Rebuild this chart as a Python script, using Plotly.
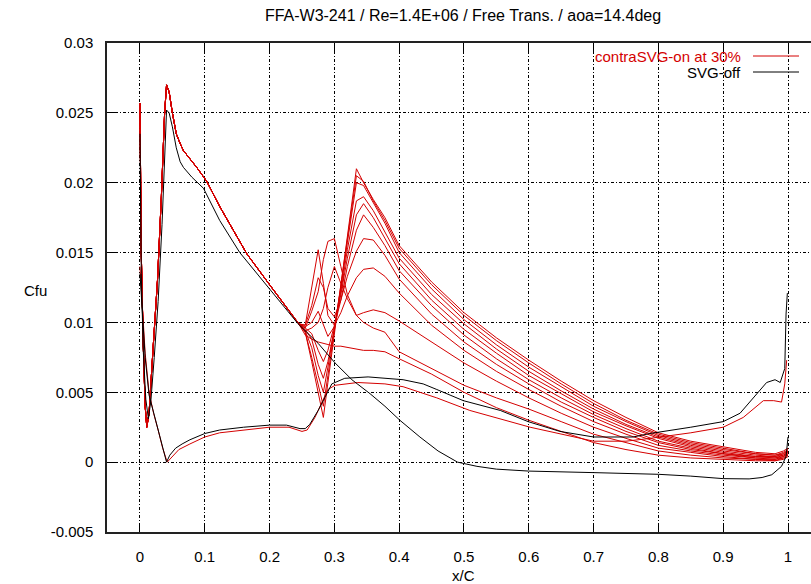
import plotly.graph_objects as go

# ---------------- data ----------------
# SVG-off (black): suction side and pressure side
off_suction_x = [0.0, 0.0005, 0.002, 0.005, 0.009, 0.013, 0.017, 0.022, 0.028, 0.034,
                 0.039, 0.041, 0.045, 0.050, 0.056, 0.062, 0.067, 0.080, 0.098, 0.110,
                 0.123, 0.154, 0.200, 0.224, 0.244, 0.275, 0.301, 0.327, 0.355, 0.378,
                 0.401, 0.432, 0.460, 0.490, 0.520, 0.550, 0.600, 0.700, 0.800, 0.850,
                 0.900, 0.940, 0.960, 0.975, 0.990, 0.997, 1.000]
off_suction_y = [0.0235, 0.0190, 0.0135, 0.0080, 0.0045, 0.0031, 0.0045, 0.0075, 0.0115, 0.0170,
                 0.0228, 0.0252, 0.0250, 0.0240, 0.0225, 0.0215, 0.0211, 0.0204, 0.0196, 0.0185,
                 0.0173, 0.0150, 0.0124, 0.0111, 0.0099, 0.0085, 0.0071, 0.0059, 0.0049, 0.0040,
                 0.0030, 0.0018, 0.0008, 0.0000, -0.0003, -0.0005, -0.00064, -0.00075, -0.00087, -0.0010,
                 -0.00118, -0.0012, -0.0011, -0.0009, -0.0003, 0.0004, 0.0018]

off_pressure_x = [0.0, 0.003, 0.008, 0.014, 0.021, 0.028, 0.035, 0.041, 0.046, 0.055,
                  0.065, 0.077, 0.100, 0.123, 0.160, 0.200, 0.226, 0.247, 0.255, 0.262,
                  0.275, 0.296, 0.316, 0.352, 0.406, 0.437, 0.458, 0.499, 0.556, 0.599,
                  0.648, 0.700, 0.761, 0.787, 0.850, 0.900, 0.926, 0.952, 0.967, 0.980,
                  0.988, 0.995, 0.997, 0.999]
off_pressure_y = [0.0135, 0.0115, 0.0075, 0.0048, 0.0036, 0.0024, 0.0011, 0.0000, 0.0005, 0.0010,
                  0.0013, 0.0016, 0.00205, 0.0023, 0.0025, 0.00265, 0.00265, 0.0024, 0.0024, 0.0027,
                  0.0037, 0.0056, 0.0060, 0.0061, 0.0059, 0.0056, 0.0052, 0.0044, 0.0037, 0.0029,
                  0.0022, 0.0018, 0.0018, 0.00205, 0.0025, 0.0029, 0.0035, 0.0049, 0.0057, 0.0059,
                  0.0057, 0.0067, 0.0106, 0.0121]

# contraSVG-on at 30% (red): pressure side
on_pressure_x = [0.0, 0.003, 0.008, 0.014, 0.021, 0.028, 0.035, 0.042, 0.048, 0.060,
                 0.077, 0.100, 0.123, 0.160, 0.200, 0.230, 0.250, 0.258, 0.270, 0.290,
                 0.301, 0.336, 0.378, 0.406, 0.458, 0.509, 0.602, 0.700, 0.750, 0.787,
                 0.850, 0.900, 0.931, 0.962, 0.978, 0.990, 0.995, 0.998]
on_pressure_y = [0.0140, 0.0118, 0.0078, 0.0050, 0.0035, 0.0023, 0.0010, 0.0000, 0.0003, 0.0009,
                 0.0013, 0.0018, 0.0021, 0.0023, 0.0025, 0.0025, 0.0022, 0.0023, 0.0032, 0.0052,
                 0.0055, 0.0057, 0.0056, 0.0054, 0.0046, 0.0037, 0.0025, 0.0015, 0.0015, 0.0017,
                 0.0021, 0.0025, 0.0032, 0.0044, 0.0044, 0.0043, 0.0056, 0.0073]

# contraSVG-on: suction side, common leading-edge part
on_le_x = [0.0, 0.0005, 0.002, 0.005, 0.008, 0.0105, 0.014, 0.020, 0.027, 0.033,
           0.038, 0.041, 0.045, 0.050, 0.056, 0.062, 0.067, 0.0875, 0.103, 0.123,
           0.165, 0.200, 0.245]
on_le_y = [0.0257, 0.0210, 0.0150, 0.0085, 0.0040, 0.0025, 0.0035, 0.0080, 0.0130, 0.0190,
           0.0250, 0.0270, 0.0265, 0.0250, 0.0235, 0.0228, 0.0223, 0.0211, 0.0201, 0.0183,
           0.0149, 0.0127, 0.0099]

# contraSVG-on: suction side downstream of the VG (one row per station)
on_tail_x = [0.255, 0.265, 0.275, 0.283, 0.290, 0.300, 0.310, 0.320, 0.334, 0.345,
             0.360, 0.378, 0.400, 0.450, 0.500, 0.550, 0.600, 0.650, 0.700, 0.750,
             0.800, 0.850, 0.900, 0.950, 0.980, 0.993, 1.000]
on_tail_y = [
    [.0093, .0072, .0050, .0032, .0057, .0092, .0127, .0161, .0210, .0200, .0188, .0175,
     .0155, .0129, .0107, .0089, .0073, .0058, .0044, .0032, .0021, .0015, .0011, .0007, .0006, .0008, .0010],
    [.0093, .0075, .0055, .0040, .0062, .0094, .0127, .0160, .0205, .0201, .0187, .0173,
     .0153, .0127, .0105, .0087, .0071, .0056, .0042, .0030, .0020, .0014, .0010, .0006, .0005, .0007, .0009],
    [.0094, .0082, .0062, .0050, .0068, .0095, .0125, .0157, .0200, .0198, .0186, .0171,
     .0150, .0124, .0102, .0084, .0068, .0054, .0040, .0029, .0019, .0013, .0009, .0006, .0005, .0006, .0009],
    [.0095, .0088, .0070, .0060, .0072, .0095, .0122, .0152, .0187, .0190, .0180, .0165,
     .0146, .0120, .0099, .0081, .0065, .0051, .0038, .0027, .0018, .0012, .0008, .0005, .0004, .0006, .0008],
    [.0096, .0092, .0080, .0072, .0080, .0098, .0120, .0146, .0177, .0185, .0175, .0160,
     .0142, .0116, .0095, .0078, .0062, .0049, .0036, .0026, .0017, .0011, .0007, .0004, .0004, .0005, .0008],
    [.0097, .0100, .0108, .0098, .0090, .0097, .0116, .0140, .0166, .0177, .0168, .0155,
     .0137, .0112, .0091, .0074, .0059, .0046, .0034, .0024, .0015, .0010, .0006, .0004, .0003, .0005, .0007],
    [.0098, .0112, .0132, .0125, .0110, .0104, .0116, .0133, .0151, .0160, .0159, .0148,
     .0131, .0106, .0086, .0070, .0056, .0043, .0032, .0022, .0014, .0009, .0006, .0003, .0003, .0004, .0007],
    [.0098, .0125, .0152, .0128, .0105, .0098, .0107, .0119, .0132, .0138, .0139, .0133,
     .0121, .0098, .0080, .0065, .0052, .0040, .0029, .0020, .0012, .0008, .0005, .0003, .0002, .0004, .0006],
    [.0096, .0108, .0122, .0145, .0158, .0160, .0140, .0120, .0105, .0107, .0109, .0107,
     .0101, .0086, .0071, .0058, .0046, .0035, .0025, .0017, .0010, .0007, .0004, .0002, .0002, .0003, .0006],
    [.0094, .0096, .0100, .0110, .0125, .0140, .0128, .0117, .0105, .0100, .0096, .0093,
     .0079, .0067, .0055, .0046, .0038, .0029, .0020, .0014, .0008, .0005, .0003, .0002, .0001, .0003, .0005],
    [.0091, .0088, .0086, .0085, .0084, .0083, .0083, .0082, .0081, .0080, .0080, .0079,
     .0074, .0063, .0050, .0039, .0030, .0022, .0014, .0009, .0005, .0003, .0002, .0001, .0001, .0002, .0004],
]

x_tick_vals = [0.0, 0.1, 0.2, 0.3, 0.4, 0.5, 0.6, 0.7, 0.8, 0.9, 1.0]
x_tick_text = ["0", "0.1", "0.2", "0.3", "0.4", "0.5", "0.6", "0.7", "0.8", "0.9", "1"]
y_tick_vals = [-0.005, 0.0, 0.005, 0.01, 0.015, 0.02, 0.025, 0.03]
y_tick_text = ["-0.005", "0", "0.005", "0.01", "0.015", "0.02", "0.025", "0.03"]

title_text = "FFA-W3-241 / Re=1.4E+06 / Free Trans. / aoa=14.4deg"
legend_on = "contraSVG-on at 30%"
legend_off = "SVG-off"

# ---------------- figure ----------------
RED = "#d40000"
BLACK = "#000000"
FONT = "Liberation Sans, Arial, sans-serif"

fig = go.Figure()
for ty in on_tail_y:
    fig.add_trace(go.Scatter(x=on_le_x + on_tail_x, y=on_le_y + ty, mode="lines",
                             line=dict(color=RED, width=1), hoverinfo="skip"))
fig.add_trace(go.Scatter(x=on_pressure_x, y=on_pressure_y, mode="lines",
                         line=dict(color=RED, width=1), hoverinfo="skip"))
fig.add_trace(go.Scatter(x=off_suction_x, y=off_suction_y, mode="lines",
                         line=dict(color=BLACK, width=1), hoverinfo="skip"))
fig.add_trace(go.Scatter(x=off_pressure_x, y=off_pressure_y, mode="lines",
                         line=dict(color=BLACK, width=1), hoverinfo="skip"))

W, H = 811, 584
L, R, T, B = 107, 0, 43, 52
pw, ph = W - L - R, H - T - B


def px2paper_x(px):
    return (px - L) / pw


def py2paper_y(py):
    return (H - B - py) / ph


grid_common = dict(showgrid=True, gridcolor="black", gridwidth=1,
                   griddash="3px,2px,1px,2px", zeroline=False,
                   ticks="inside", ticklen=8, tickcolor="black", tickwidth=1,
                   showline=True, linecolor="#222222", linewidth=1.5)

fig.update_layout(
    width=W, height=H,
    margin=dict(l=L, r=R, t=T, b=B, pad=0),
    paper_bgcolor="white", plot_bgcolor="white",
    font=dict(family=FONT, size=15, color="black"),
    showlegend=False,
    title=dict(text=title_text, xref="paper", x=px2paper_x(463), xanchor="center",
               yref="container", y=1 - 15 / H, yanchor="middle",
               font=dict(family=FONT, size=16, color="black")),
    xaxis=dict(range=[-0.0509, 1.0355], tickvals=x_tick_vals, ticktext=x_tick_text,
               mirror="ticks", ticklabelstandoff=10, **grid_common),
    yaxis=dict(range=[-0.005, 0.03], tickvals=y_tick_vals, ticktext=y_tick_text,
               mirror=False, ticklabelstandoff=9, **grid_common),
    annotations=[
        dict(text="Cfu", xref="paper", yref="paper", x=px2paper_x(35), y=py2paper_y(290),
             xanchor="center", yanchor="middle", showarrow=False, font=dict(size=15)),
        dict(text="x/C", xref="paper", yref="paper", x=px2paper_x(463), y=py2paper_y(575),
             xanchor="center", yanchor="middle", showarrow=False, font=dict(size=15)),
        dict(text=legend_on, xref="paper", yref="paper", x=px2paper_x(743), y=py2paper_y(56),
             xanchor="right", yanchor="middle", showarrow=False, font=dict(size=15, color=RED)),
        dict(text=legend_off, xref="paper", yref="paper", x=px2paper_x(743), y=py2paper_y(72),
             xanchor="right", yanchor="middle", showarrow=False, font=dict(size=15, color=BLACK)),
    ],
    shapes=[
        dict(type="line", xref="paper", yref="paper", x0=px2paper_x(753), x1=px2paper_x(799),
             y0=py2paper_y(56), y1=py2paper_y(56), line=dict(color=RED, width=1)),
        dict(type="line", xref="paper", yref="paper", x0=px2paper_x(753), x1=px2paper_x(799),
             y0=py2paper_y(72), y1=py2paper_y(72), line=dict(color=BLACK, width=1)),
    ],
)

fig.write_html("out.html")
